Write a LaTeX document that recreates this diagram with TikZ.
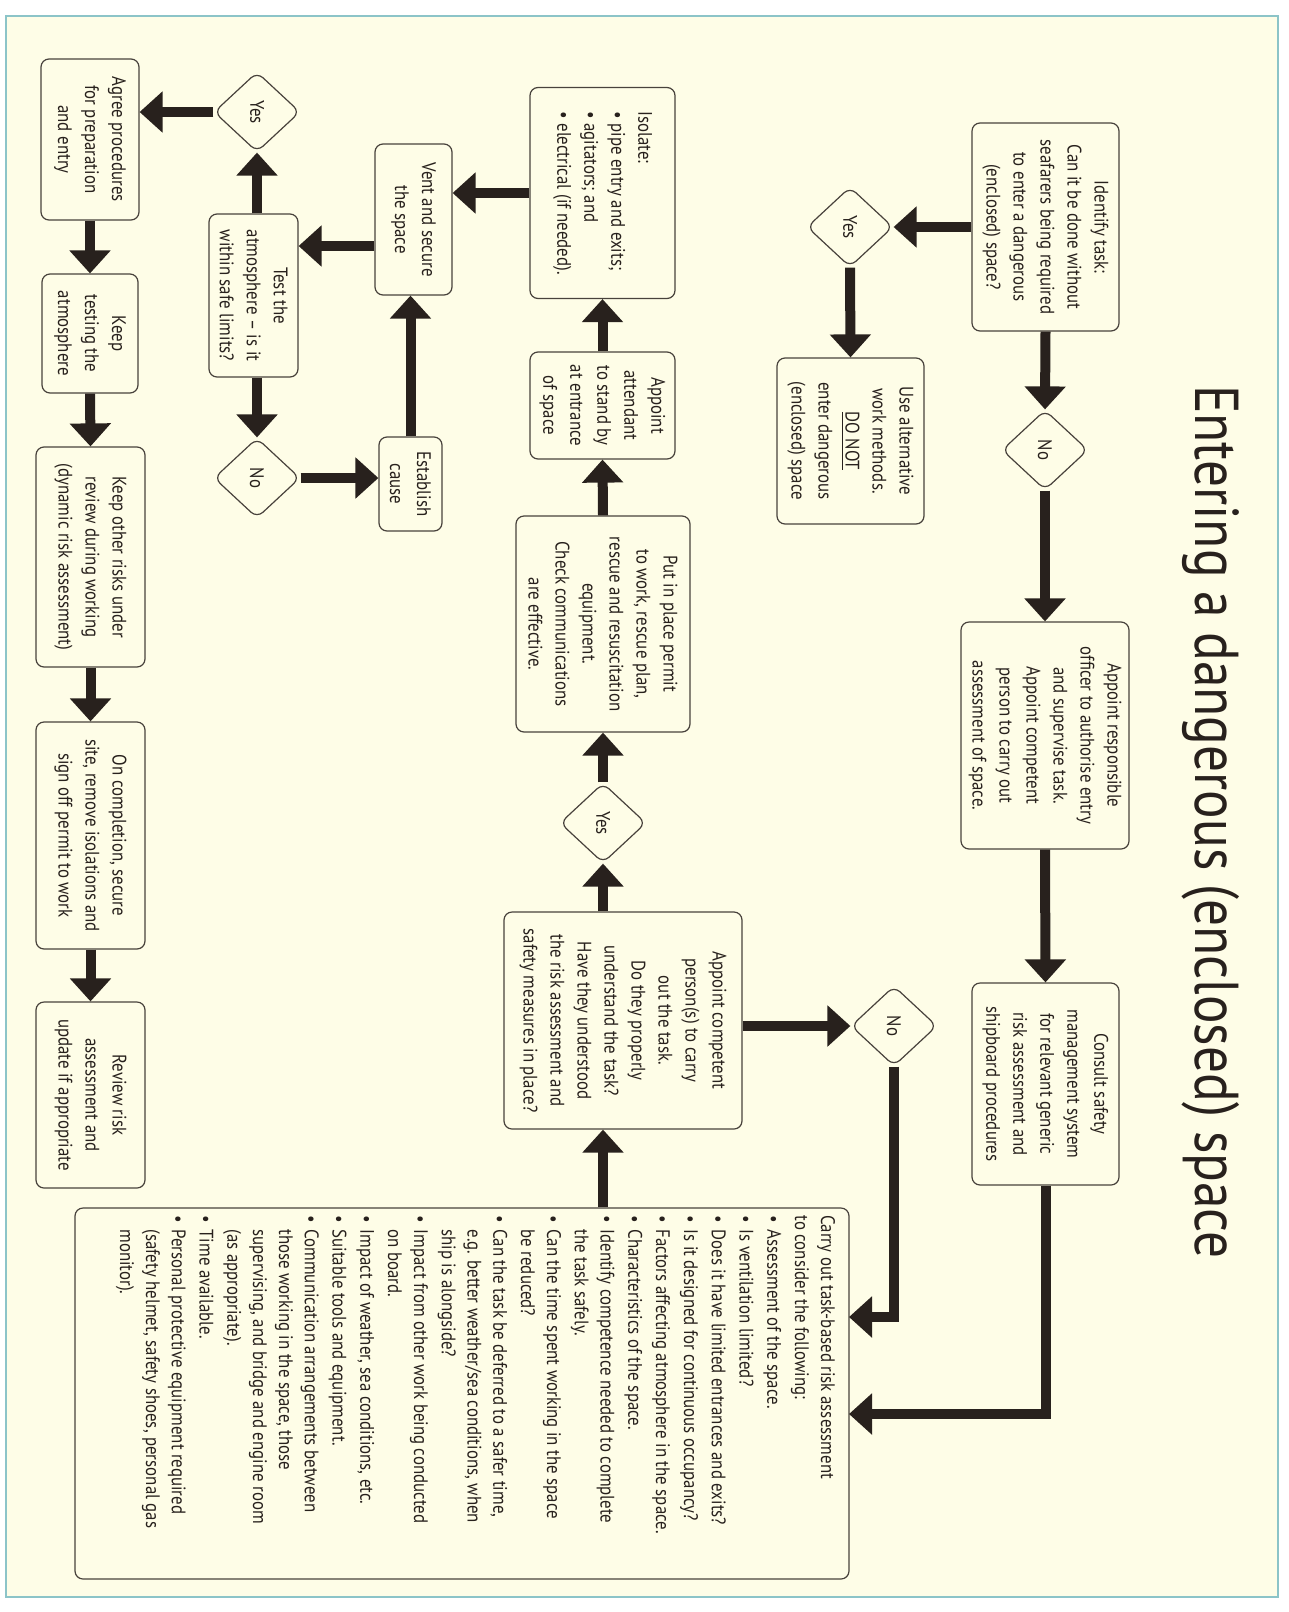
\documentclass[tikz,border=0pt]{standalone}
\usepackage{fontspec}
\setmainfont{PT Sans}[FakeStretch=0.86]
\usetikzlibrary{arrows.meta,shapes.geometric}
\definecolor{paper}{RGB}{254,253,231}
\definecolor{ink}{RGB}{40,33,29}
\definecolor{edge}{RGB}{72,66,60}
\definecolor{rim}{RGB}{140,196,200}
\newcommand\bodyfont{\fontsize{9.8}{13.5}\selectfont}
\newcommand\itm{\makebox[7pt][l]{\textbullet}}
\newcommand\cnt{\hspace*{7pt}}
\begin{document}
\begin{tikzpicture}[x=0.5pt,y=0.5pt,
  box/.style={draw=edge, line width=0.6pt, rounded corners=4pt, fill=paper,
    text=ink, align=center, inner sep=1pt, font=\bodyfont},
  choice/.style={diamond, draw=edge, line width=0.6pt, rounded corners=4pt,
    fill=paper, text=ink, inner sep=0pt, minimum width=40pt,
    minimum height=43pt, font=\bodyfont},
  flow/.style={draw=ink, line width=5pt, -{Triangle[length=11.5pt,width=20pt]}},
]
\useasboundingbox (0,0) rectangle (1289,-1612);
\fill[white] (0,0) rectangle (1289,-1612);
\filldraw[fill=paper, draw=rim, line width=1pt] (6,-16) rectangle (1278,-1597);

% the chart is laid out in landscape and turned a quarter clockwise
\begin{scope}[rotate=-90, transform shape]
\node[anchor=base, text=ink, font=\fontsize{31}{34}\selectfont] (title)
  at (822,1195) {Entering a dangerous (enclosed) space};

% top row
\node[box, minimum width=104pt, minimum height=73.5pt] (identify) at (227,1045.5)
  {Identify task:\\Can it be done without\\seafarers being required\\to enter a dangerous\\(enclosed) space?};
\node[choice] (yesA) at (227,850) {Yes};
\node[box, minimum width=83pt, minimum height=73.5pt] (alt) at (441,850.5)
  {Use alternative\\work methods.\\\underline{DO NOT}\\enter dangerous\\(enclosed) space};
\node[choice] (noA) at (450,1045) {No};
\node[box, minimum width=113.5pt, minimum height=84pt] (resp) at (735.5,1045)
  {Appoint responsible\\officer to authorise entry\\and supervise task.\\Appoint competent\\person to carry out\\assessment of space.};
\node[box, minimum width=101pt, minimum height=73.5pt] (consult) at (1084,1045.5)
  {Consult safety\\management system\\for relevant generic\\risk assessment and\\shipboard procedures};

% risk assessment checklist
\node[box, inner sep=0pt, minimum width=185.5pt, minimum height=387pt] (carry) at (1393.5,462)
  {\parbox[c][373pt][t]{178pt}{\raggedright\fontsize{9.8}{12.9}\selectfont
  Carry out task-based risk assessment\\
  to consider the following:\\[1pt]
  \itm Assessment of the space.\\[1pt]
  \itm Is ventilation limited?\\[1pt]
  \itm Does it have limited entrances and exits?\\[1pt]
  \itm Is it designed for continuous occupancy?\\[1pt]
  \itm Factors affecting atmosphere in the space.\\[1pt]
  \itm Characteristics of the space.\\[1pt]
  \itm Identify competence needed to complete\\
  \cnt the task safely.\\[1pt]
  \itm Can the time spent working in the space\\
  \cnt be reduced?\\[1pt]
  \itm Can the task be deferred to a safer time,\\
  \cnt e.g. better weather/sea conditions, when\\
  \cnt ship is alongside?\\[1pt]
  \itm Impact from other work being conducted\\
  \cnt on board.\\[1pt]
  \itm Impact of weather, sea conditions, etc.\\[1pt]
  \itm Suitable tools and equipment.\\[1pt]
  \itm Communication arrangements between\\
  \cnt those working in the space, those\\
  \cnt supervising, and bridge and engine room\\
  \cnt (as appropriate).\\[1pt]
  \itm Time available.\\[1pt]
  \itm Personal protective equipment required\\
  \cnt (safety helmet, safety shoes, personal gas\\
  \cnt monitor).}};

% middle row
\node[choice] (noB) at (1026,894) {No};
\node[box, minimum width=108.5pt, minimum height=119pt] (compet) at (1020.5,623)
  {Appoint competent\\person(s) to carry\\out the task.\\Do they properly\\understand the task?\\Have they understood\\the risk assessment and\\safety measures in place?};
\node[choice] (yesB) at (823,603) {Yes};
\node[box, minimum width=108pt, minimum height=87pt] (permit) at (624,603)
  {Put in place permit\\to work, rescue plan,\\rescue and resuscitation\\equipment.\\Check communications\\are effective.};
\node[box, minimum width=53.5pt, minimum height=72.5pt] (attend) at (405.5,602.5)
  {Appoint\\attendant\\to stand by\\at entrance\\of space};
\node[box, align=left, minimum width=105.5pt, minimum height=72.5pt] (isolate) at (193,602.5)
  {Isolate:\\\textbullet\ pipe entry and exits;\\\textbullet\ agitators; and\\\textbullet\ electrical (if needed).};

% atmosphere loop
\node[box, minimum width=75.5pt, minimum height=38.5pt] (vent) at (219.5,413.5)
  {Vent and secure\\the space};
\node[box, minimum width=81.5pt, minimum height=44.5pt] (test) at (295.5,253.5)
  {Test the\\atmosphere -- is it\\within safe limits?};
\node[choice] (yesC) at (112,257) {Yes};
\node[choice] (noC) at (478,257) {No};
\node[box, minimum width=47pt, minimum height=31.5pt] (establish) at (484,410.5)
  {Establish\\cause};

% bottom row
\node[box, minimum width=80.5pt, minimum height=49pt] (agree) at (139.5,90)
  {Agree procedures\\for preparation\\and entry};
\node[box, minimum width=59.5pt, minimum height=48pt] (keeptest) at (333.5,90)
  {Keep\\testing the\\atmosphere};
\node[box, minimum width=110pt, minimum height=54.5pt] (keepother) at (557,90.5)
  {Keep other risks under\\review during working\\(dynamic risk assessment)};
\node[box, minimum width=113.5pt, minimum height=54.5pt] (oncomp) at (835.5,90.5)
  {On completion, secure\\site, remove isolations and\\sign off permit to work};
\node[box, minimum width=93pt, minimum height=54.5pt] (review) at (1095,90.5)
  {Review risk\\assessment and\\update if appropriate};

% points where bent connectors meet the checklist, and the vent/test row
\coordinate (k1) at (1414,849);
\coordinate (k2) at (1317,849);
\coordinate (r1) at (246,0);
\end{scope}

% connectors, drawn on the page as it stands
\draw[flow] (identify.south) -- (yesA.north);
\draw[flow] (yesA.east) -- (alt.west);
\draw[flow] (identify.east) -- (noA.west);
\draw[flow] (noA.east) -- (resp.west);
\draw[flow] (resp.east) -- (consult.west);
\draw[flow] (consult.east) |- (k1);
\draw[flow] (noB.east) |- (k2);
\draw[flow] (compet.north |- noB.south) -- (noB.south);
\draw[flow] (yesB |- carry.west) -- (yesB |- compet.east);
\draw[flow] (yesB |- compet.west) -- (yesB.east);
\draw[flow] (yesB.west) -- (permit.east);
\draw[flow] (permit.west) -- (attend.east);
\draw[flow] (attend.west) -- (isolate.east);
\draw[flow] (isolate.south) -- (vent.north |- isolate.south);
\draw[flow] (vent.south |- r1) -- (test.north |- r1);
\draw[flow] (yesC |- test.west) -- (yesC.east);
\draw[flow] (noC |- test.east) -- (noC.west);
\draw[flow] (yesC.south) -- (agree.north |- yesC.south);
\draw[flow] (noC.north) -- (establish.south |- noC.north);
\draw[flow] (establish.west) -- (establish.west |- vent.east);
\draw[flow] (agree.east) -- (keeptest.west);
\draw[flow] (keeptest.east) -- (keepother.west);
\draw[flow] (keepother.east) -- (oncomp.west);
\draw[flow] (oncomp.east) -- (review.west);
\end{tikzpicture}
\end{document}
